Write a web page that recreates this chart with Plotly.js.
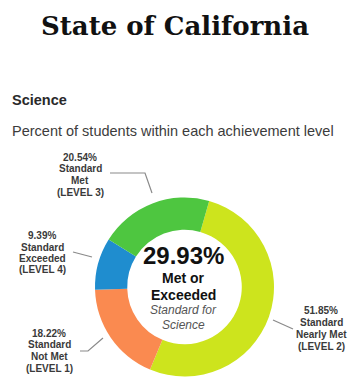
<!DOCTYPE html>
<html>
<head>
<meta charset="utf-8">
<script src="https://cdn.plot.ly/plotly-3.0.1.min.js"></script>
<style>html,body{margin:0;padding:0;background:#fff;}#chart{width:350px;height:386px;}</style>
</head>
<body>
<div id="chart"></div>
<script>
// Data
var levels = ["Standard Nearly Met (LEVEL 2)", "Standard Not Met (LEVEL 1)", "Standard Exceeded (LEVEL 4)", "Standard Met (LEVEL 3)"];
var values = [51.85, 18.22, 9.39, 20.54];
var colors = ["#cde41d", "#fa8a50", "#1f8dcf", "#4ec640"];
var labelLines = [
  ["51.85%", "Standard", "Nearly Met", "(LEVEL 2)"],
  ["18.22%", "Standard", "Not Met", "(LEVEL 1)"],
  ["9.39%", "Standard", "Exceeded", "(LEVEL 4)"],
  ["20.54%", "Standard", "Met", "(LEVEL 3)"]
];
var metOrExceeded = "29.93%";
var chartTitle = "State of California";
var subject = "Science";
var subtitle = "Percent of students within each achievement level";

// Layout helpers (pixel -> paper)
var W = 350, H = 386;
function px(x) { return x / W; }
function py(y) { return 1 - y / H; }

// Positions of outside labels (px): [centerX, firstLineY, lineSpacing]
var labelPos = [[321, 310, 12], [49, 333, 11.7], [42, 236, 11], [80, 157, 11.8]];
// Leader lines (px polylines)
var leaders = [
  [[273, 320], [293, 329]],
  [[80, 351], [88, 351], [103, 338]],
  [[73, 252], [92, 257]],
  [[110, 173], [145, 173], [152, 193]]
];

var annotations = [];
labelLines.forEach(function (lines, i) {
  var p = labelPos[i];
  lines.forEach(function (t, j) {
    annotations.push({
      text: "<b>" + t + "</b>", xref: "paper", yref: "paper",
      x: px(p[0]), y: py(p[1] + j * p[2]), xanchor: "center", yanchor: "middle",
      showarrow: false, font: {family: "Liberation Sans, Arial, sans-serif", size: 10, color: "#3a3a3a"}
    });
  });
});

// Headings
annotations.push({text: "<b>" + subject + "</b>", xref: "paper", yref: "paper", x: px(10), y: py(100),
  xanchor: "left", yanchor: "middle", showarrow: false,
  font: {family: "Liberation Sans, Arial, sans-serif", size: 14.5, color: "#2a2a2a"}});
annotations.push({text: subtitle, xref: "paper", yref: "paper", x: px(10), y: py(131),
  xanchor: "left", yanchor: "middle", showarrow: false,
  font: {family: "Liberation Sans, Arial, sans-serif", size: 14.5, color: "#3c3c3c"}});

// Center text
var cx = 183;
annotations.push({text: "<b>" + metOrExceeded + "</b>", xref: "paper", yref: "paper", x: px(cx), y: py(255),
  xanchor: "center", yanchor: "middle", showarrow: false,
  font: {family: "Liberation Sans, Arial, sans-serif", size: 24, color: "#111"}});
annotations.push({text: "<b>Met or</b>", xref: "paper", yref: "paper", x: px(cx), y: py(278),
  xanchor: "center", yanchor: "middle", showarrow: false,
  font: {family: "Liberation Sans, Arial, sans-serif", size: 14, color: "#111"}});
annotations.push({text: "<b>Exceeded</b>", xref: "paper", yref: "paper", x: px(cx), y: py(295),
  xanchor: "center", yanchor: "middle", showarrow: false,
  font: {family: "Liberation Sans, Arial, sans-serif", size: 14, color: "#111"}});
annotations.push({text: "<i>Standard for</i>", xref: "paper", yref: "paper", x: px(cx), y: py(310),
  xanchor: "center", yanchor: "middle", showarrow: false,
  font: {family: "Liberation Sans, Arial, sans-serif", size: 12, color: "#555"}});
annotations.push({text: "<i>" + subject + "</i>", xref: "paper", yref: "paper", x: px(cx), y: py(325),
  xanchor: "center", yanchor: "middle", showarrow: false,
  font: {family: "Liberation Sans, Arial, sans-serif", size: 12, color: "#555"}});

var shapes = leaders.map(function (pts) {
  var d = pts.map(function (q, k) { return (k ? "L" : "M") + px(q[0]) + "," + py(q[1]); }).join(" ");
  return {type: "path", xref: "paper", yref: "paper", path: d, line: {color: "#8a8a8a", width: 1.2}};
});

var trace = {
  type: "pie",
  labels: levels,
  values: values,
  marker: {colors: colors, line: {width: 0}},
  hole: 0.64,
  sort: false,
  direction: "clockwise",
  rotation: 16,
  textinfo: "none",
  hoverinfo: "label+percent",
  showlegend: false,
  domain: {x: [px(95), px(274)], y: [py(377), py(197)]}
};

var layout = {
  width: W, height: H,
  margin: {l: 0, r: 0, t: 0, b: 0},
  paper_bgcolor: "#fff",
  title: {text: "<b>" + chartTitle + "</b>", x: 0.5, xanchor: "center", y: py(26), yanchor: "middle",
    font: {family: "DejaVu Serif, Georgia, serif", size: 26, color: "#111"}},
  annotations: annotations,
  shapes: shapes,
  showlegend: false
};

Plotly.newPlot("chart", [trace], layout, {displayModeBar: false, staticPlot: true});
</script>
</body>
</html>
